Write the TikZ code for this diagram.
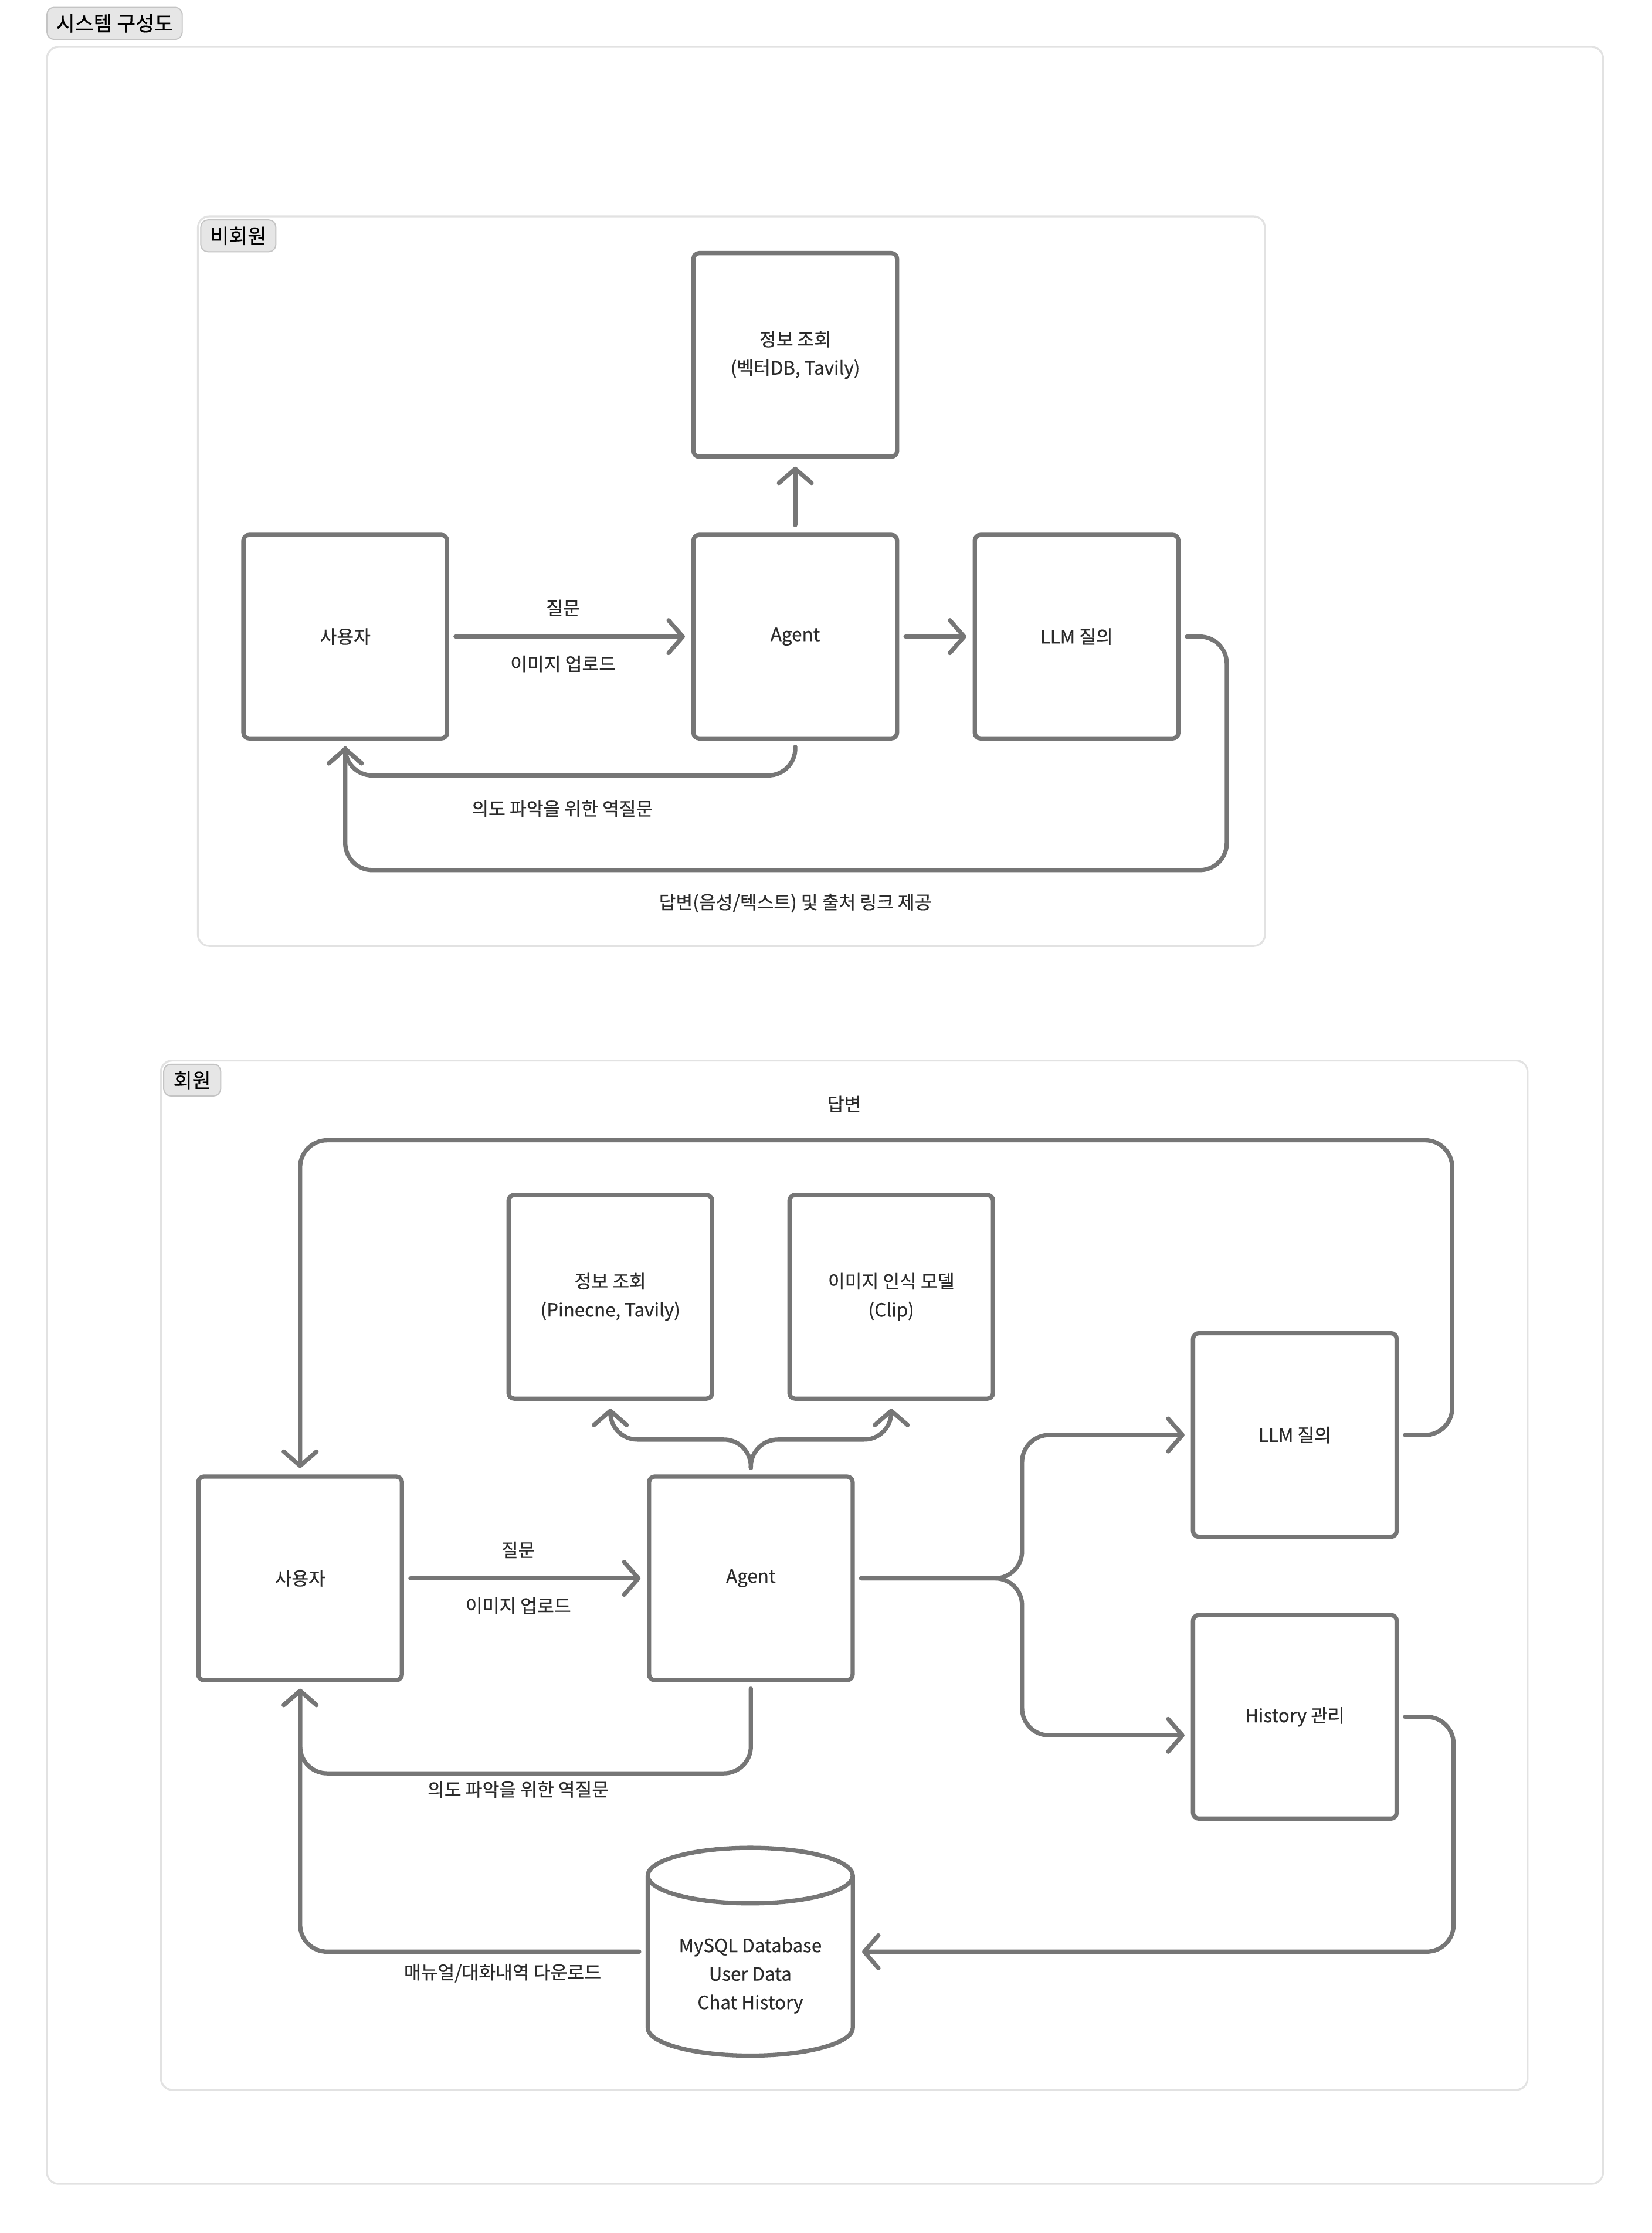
\documentclass[tikz,border=0pt]{standalone}
\usepackage{fontspec}
\setmainfont{Noto Sans CJK KR}[FakeBold=0.35]
\usetikzlibrary{arrows.meta,calc}
\definecolor{lineg}{HTML}{767676}
\definecolor{txt}{HTML}{2B2B2B}
\definecolor{grpline}{HTML}{E2E2E2}
\definecolor{pillfill}{HTML}{E6E6E6}
\definecolor{pillline}{HTML}{C4C4C4}
\newcommand\bodyfnt{\fontsize{12.9}{20}\selectfont}
\newcommand\pillfnt{\fontsize{14.3}{16}\selectfont}
\tikzset{
  box/.style={draw=lineg, line width=3pt, rounded corners=4pt, minimum width=143pt,
    minimum height=143pt, inner sep=0pt, outer sep=0pt, align=center, text=txt, font=\bodyfnt},
  dbbox/.style={minimum width=144pt, minimum height=146pt, inner sep=0pt, outer sep=0pt},
  dbline/.style={draw=lineg, line width=3pt, line join=round},
  grp/.style={draw=grpline, line width=1.3pt, rounded corners=8pt, inner sep=0pt, outer sep=0pt},
  pill/.style={draw=pillline, fill=pillfill, line width=0.8pt, rounded corners=5pt,
    inner sep=0pt, text=black, font=\pillfnt},
  lbl/.style={text=txt, font=\bodyfnt, inner sep=0pt, align=center},
  conn/.style={draw=lineg, line width=3pt, line cap=round, line join=round, rounded corners=19pt},
  arr/.style={conn, -{Straight Barb[length=10pt,width=23pt,line cap=round,line join=round]}},
}
\begin{document}
\begin{tikzpicture}[x=1pt,y=-1pt]
\useasboundingbox (0,0) rectangle (1160,1568.6);
\fill[white] (0,0) rectangle (1160,1568.6);

% containers
\node[grp, minimum width=1093pt, minimum height=1501pt] (outer) at (579.5,783.5) {};
\node[pill, minimum width=95pt, minimum height=22.5pt] (title) at (80.5,16.4) {시스템 구성도};

\node[grp, minimum width=749.5pt, minimum height=512.5pt] (gNon) at (513.75,408.25) {};
\node[pill, minimum width=52.7pt, minimum height=22.3pt] (pNon) at (167.4,165.7) {비회원};

\node[grp, minimum width=960pt, minimum height=723pt] (gMem) at (593,1106.5) {};
\node[pill, minimum width=40pt, minimum height=22.3pt] (pMem) at (135,758.7) {회원};

% ---------- non-member ----------
\node[box] (nInfo) at (558.6,249.3) {정보 조회\\(벡터DB, Tavily)};
\node[box] (nUser) at (242.5,447.2) {사용자};
\node[box] (nAgent) at (558.6,447.2) {Agent};
\node[box] (nLLM) at (756.2,447.2) {LLM 질의};

\draw[arr] ([xshift=6]nUser.east) -- ([xshift=-6]nAgent.west);
\node[lbl] (nQ) at (395.5,427) {질문};
\node[lbl] (nUp) at (395.5,466.3) {이미지 업로드};
\draw[arr] ([xshift=6]nAgent.east) -- ([xshift=-6]nLLM.west);
\draw[arr] ([yshift=7]nAgent.north) -- ([yshift=-7]nInfo.south);
\draw[arr] ([yshift=-6]nAgent.south) -- ++(0,20) -| ([yshift=-6]nUser.south);
\node[lbl] (nIntent) at (395,568) {의도 파악을 위한 역질문};
\draw[arr] ([xshift=6]nLLM.east) -| ++(28,164) -| ([yshift=-6]nUser.south);
\node[lbl] (nAns) at (558.6,634.4) {답변(음성/텍스트) 및 출처 링크 제공};

% ---------- member ----------
\node[box] (mInfo) at (428.7,911) {정보 조회\\(Pinecne, Tavily)};
\node[box] (mImg) at (626,911) {이미지 인식 모델\\(Clip)};
\node[box] (mUser) at (210.8,1108.7) {사용자};
\node[box] (mAgent) at (527.4,1108.7) {Agent};
\node[box] (mLLM) at (909.5,1008) {LLM 질의};
\node[box] (mHist) at (909.5,1206) {History 관리};
\node[dbbox] (mDB) at (527,1371) {};
\draw[dbline] ([yshift=-19.5pt]mDB.north west) -- ([yshift=19.5pt]mDB.south west)
   arc[start angle=180, end angle=360, x radius=72pt, y radius=19.5pt]
   -- ([yshift=-19.5pt]mDB.north east);
\draw[dbline] ([yshift=-19.5pt]mDB.north) ellipse [x radius=72pt, y radius=19.5pt];
\node[lbl] (mDBtext) at (527,1387.7) {MySQL Database\\User Data\\Chat History};

\draw[arr] ([xshift=6]mLLM.east) -| ++(33,-207) -| ([yshift=6]mUser.north);
\node[lbl] (mAns) at (593,775.5) {답변};

\draw[arr] ([xshift=6]mUser.east) -- ([xshift=-6]mAgent.west);
\node[lbl] (mQ) at (364,1088.7) {질문};
\node[lbl] (mUp) at (364,1128) {이미지 업로드};

\draw[arr] ([yshift=6]mAgent.north) -- ++(0,-20) -| ([yshift=-7]mInfo.south);
\draw[arr] ([yshift=6]mAgent.north) -- ++(0,-20) -| ([yshift=-7]mImg.south);

\draw[arr] ([xshift=6]mAgent.east) -- ++(113,0) |- ([xshift=-6]mLLM.west);
\draw[arr] ([xshift=6]mAgent.east) -- ++(113,0) |- ([xshift=-6,yshift=-13]mHist.west);

\draw[arr] ([xshift=6]mHist.east) -- ++(34,0) |- ([xshift=6.5]mDB.east);
\draw[arr] ([xshift=-6]mDB.west) -| ([yshift=-6]mUser.south);
\node[lbl] (mDown) at (353,1386) {매뉴얼/대화내역 다운로드};
\draw[arr] ([yshift=-6]mAgent.south) -- ++(0,59.5) -| ([yshift=-6]mUser.south);
\node[lbl] (mIntent) at (364,1257) {의도 파악을 위한 역질문};
\end{tikzpicture}
\end{document}
